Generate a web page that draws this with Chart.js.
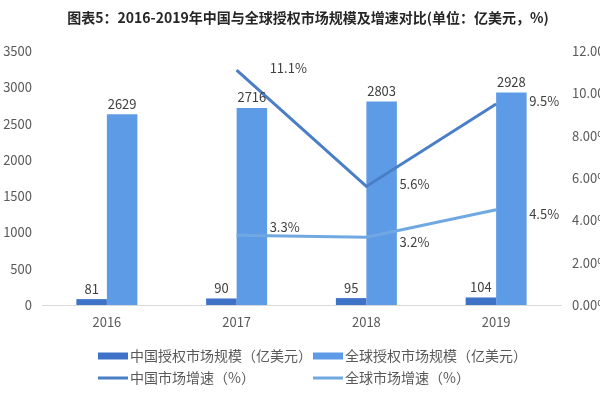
<!DOCTYPE html>
<html>
<head>
<meta charset="utf-8">
<script src="https://cdn.jsdelivr.net/npm/chart.js@4.4.1/dist/chart.umd.min.js"></script>
<style>
  html, body { margin: 0; padding: 0; background: #ffffff; overflow: hidden; }
  #wrap { width: 600px; height: 399px; overflow: hidden; position: relative; }
  canvas { display: block; }
</style>
</head>
<body>
<div id="wrap"><canvas id="c" width="616" height="399"></canvas></div>
<script>
// ---- data ----
const years = ['2016', '2017', '2018', '2019'];
const chinaSize = [81, 90, 95, 104];          // 中国授权市场规模（亿美元）
const globalSize = [2629, 2716, 2803, 2928];  // 全球授权市场规模（亿美元）
const chinaGrowth = [null, 11.1, 5.6, 9.5];   // 中国市场增速（%）
const globalGrowth = [null, 3.3, 3.2, 4.5];   // 全球市场增速（%）
const leftTicks = [0, 500, 1000, 1500, 2000, 2500, 3000, 3500];
const rightTicks = [0, 2, 4, 6, 8, 10, 12];
const titleText = '图表5：2016-2019年中国与全球授权市场规模及增速对比(单位：亿美元，%)';

const FONT = "'Noto Sans CJK SC', 'Noto Sans', sans-serif";
const C_DARK = '#3e72c6';
const C_LIGHT = '#5e9be6';
const C_LINE1 = '#4a7fc8';
const C_LINE2 = '#70a8e2';
const TXT = '#595959';

// value labels + legend + title drawn through chart geometry
const labelPlugin = {
  id: 'labels',
  afterDatasetsDraw(chart, args, opts) {
    const ctx = chart.ctx;
    ctx.save();
    ctx.font = '13px ' + FONT;
    ctx.fillStyle = '#404040';
    chart.data.datasets.forEach((ds, i) => {
      const meta = chart.getDatasetMeta(i);
      meta.data.forEach((el, j) => {
        const v = ds.data[j];
        if (v === null || v === undefined) return;
        if (ds.type === 'line') {
          const shift = (opts.lineShift[i] || [])[j] || 0;
          ctx.textAlign = 'left';
          ctx.textBaseline = 'middle';
          ctx.fillText(v.toFixed(1) + '%', el.x + 33, el.y + shift);
        } else {
          ctx.textAlign = 'center';
          ctx.textBaseline = 'bottom';
          ctx.fillText(String(v), el.x, el.y - 4);
        }
      });
    });
    ctx.restore();
  },
  afterDraw(chart, args, opts) {
    const ctx = chart.ctx;
    ctx.save();
    // title
    ctx.font = 'bold 14px ' + FONT;
    ctx.fillStyle = '#262626';
    ctx.textAlign = 'center';
    ctx.textBaseline = 'middle';
    ctx.fillText(titleText, 308, 18);
    // legend (2 x 2 grid)
    ctx.font = '14px ' + FONT;
    ctx.textAlign = 'left';
    chart.data.datasets.forEach((ds, i) => {
      const col = i % 2, row = Math.floor(i / 2);
      const x = opts.legendX[col], y = opts.legendY[row];
      if (ds.type === 'line') {
        ctx.fillStyle = ds.borderColor;
        ctx.fillRect(x, y - 1.5, 30, 3);
      } else {
        ctx.fillStyle = ds.backgroundColor;
        ctx.fillRect(x, y - 3.5, 30, 7);
      }
      ctx.fillStyle = TXT;
      ctx.fillText(ds.label, x + 32, y);
    });
    ctx.restore();
  }
};

new Chart(document.getElementById('c'), {
  type: 'bar',
  data: {
    labels: years,
    datasets: [
      { type: 'bar', label: '中国授权市场规模（亿美元）', data: chinaSize, backgroundColor: C_DARK, yAxisID: 'y', order: 2 },
      { type: 'bar', label: '全球授权市场规模（亿美元）', data: globalSize, backgroundColor: C_LIGHT, yAxisID: 'y', order: 2 },
      { type: 'line', label: '中国市场增速（%）', data: chinaGrowth, borderColor: C_LINE1, backgroundColor: C_LINE1, borderWidth: 3, pointRadius: 0, yAxisID: 'y1', order: 1, spanGaps: false },
      { type: 'line', label: '全球市场增速（%）', data: globalGrowth, borderColor: C_LINE2, backgroundColor: C_LINE2, borderWidth: 3, pointRadius: 0, yAxisID: 'y1', order: 1, spanGaps: false }
    ]
  },
  options: {
    responsive: false,
    animation: false,
    devicePixelRatio: 1,
    layout: { padding: { top: 51, bottom: 0, left: 0, right: 0 } },
    datasets: { bar: { categoryPercentage: 0.47, barPercentage: 1.0 } },
    plugins: {
      legend: { display: false },
      title: { display: false },
      tooltip: { enabled: false },
      labels: {
        lineShift: { 2: [0, -2, -2, -3], 3: [0, -8, 5, 4] },
        legendX: [98, 313],
        legendY: [356, 378]
      }
    },
    scales: {
      x: {
        grid: { display: false, drawTicks: false },
        border: { display: true, color: '#d9d9d9', width: 1 },
        ticks: { color: TXT, font: { family: FONT, size: 13 }, padding: 9 },
        afterFit(s) { s.height = 94; }
      },
      y: {
        position: 'left',
        min: 0, max: 3500,
        afterBuildTicks(s) { s.ticks = leftTicks.map(v => ({ value: v })); },
        grid: { display: false, drawTicks: false },
        border: { display: false },
        ticks: { color: TXT, font: { family: FONT, size: 13 }, padding: 10, callback: v => String(v) },
        afterFit(s) { s.width = 42; }
      },
      y1: {
        position: 'right',
        min: 0, max: 12,
        afterBuildTicks(s) { s.ticks = rightTicks.map(v => ({ value: v })); },
        grid: { display: false, drawTicks: false },
        border: { display: false },
        ticks: {
          color: TXT, font: { family: FONT, size: 13 }, padding: 11,
          callback: v => v.toFixed(2) + '%'
        },
        afterFit(s) { s.width = 55; }
      }
    }
  },
  plugins: [labelPlugin]
});
</script>
</body>
</html>
